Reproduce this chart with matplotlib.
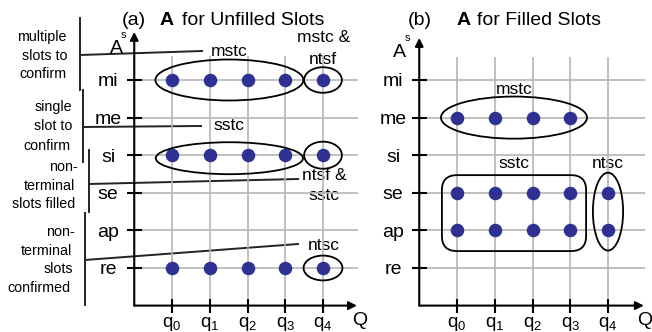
import numpy as np
import matplotlib
matplotlib.use('Agg')
import matplotlib.pyplot as plt
from matplotlib.patches import Ellipse, FancyBboxPatch

plt.rcParams['font.family'] = ['Liberation Sans', 'DejaVu Sans']
plt.rcParams['mathtext.fontset'] = 'custom'
plt.rcParams['mathtext.rm'] = 'Liberation Sans'

# ---- data ----
rows = ['re', 'ap', 'se', 'si', 'me', 'mi']
q_subs = ['0', '1', '2', '3', '4']
q_labels = [r'q$_\mathrm{%s}$' % s for s in q_subs]

# (a) unfilled slots
unfilled_rows = ['mi', 'si', 're']
unfilled_q = [0, 1, 2, 3, 4]

# (b) filled slots
filled_me_q = [0, 1, 2, 3]
filled_se_q = [0, 1, 2, 3, 4]
filled_ap_q = [0, 1, 2, 3, 4]

DOT = '#2e3192'
GRID = '#b5b5b5'

# pixel geometry of the figure
W, H = 652, 332
DX, DY = 37.75, 37.6
RE_PX = 268


def rect(q0_px, xlim, ylim):
    left = q0_px + xlim[0] * DX
    right = q0_px + xlim[1] * DX
    bottom = RE_PX - ylim[0] * DY
    top = RE_PX - ylim[1] * DY
    return [left / W, 1 - bottom / H, (right - left) / W, (bottom - top) / H]


fig = plt.figure(figsize=(6.52, 3.32), dpi=100)

# overlay in pixel coordinates for the annotations
ov = fig.add_axes([0, 0, 1, 1])
ov.set_xlim(0, W)
ov.set_ylim(H, 0)
ov.axis('off')


def make_panel(q0_px, xlim, ylim, grid_right, grid_top, arrow_top, arrow_right):
    ax = fig.add_axes(rect(q0_px, xlim, ylim))
    ax.set_xlim(*xlim)
    ax.set_ylim(*ylim)
    ax.patch.set_visible(False)
    for s in ax.spines.values():
        s.set_visible(False)
    ax.set_xticks(range(len(q_labels)), q_labels)
    ax.set_yticks(range(len(rows)), rows)
    ax.tick_params(axis='y', direction='inout', length=10.8, width=1.5,
                   labelsize=14, pad=13.3)
    for l in ax.get_yticklabels():
        l.set_ha('center')
    ax.tick_params(axis='x', direction='inout', length=9.4, width=1.5,
                   labelsize=13.5, pad=1.8)
    ax.hlines(range(len(rows)), -1, grid_right, color=GRID, lw=1.2, zorder=1)
    ax.vlines(range(len(q_labels)), -1, grid_top, color=GRID, lw=1.2, zorder=1)
    arrow = dict(arrowstyle='-|>', color='k', lw=1.5, mutation_scale=12,
                 shrinkA=0, shrinkB=0)
    ax.annotate('', xy=(-1, arrow_top), xytext=(-1, -1.0), arrowprops=arrow,
                annotation_clip=False)
    ax.annotate('', xy=(arrow_right, -1), xytext=(-1, -1), arrowprops=arrow,
                annotation_clip=False)
    return ax


# ---- panel (a) ----
axa = make_panel(172, (-1, 4.95), (-1, 6.35), 4.92, 5.64, 6.28, 4.9)
xa = [q for r in unfilled_rows for q in unfilled_q]
ya = [rows.index(r) for r in unfilled_rows for q in unfilled_q]
axa.scatter(xa, ya, s=95, color=DOT, zorder=3, linewidths=0)

ek = dict(fill=False, ec='k', lw=1.3, zorder=4)
axa.add_patch(Ellipse((1.52, 5), 3.92, 1.09, **ek))
axa.add_patch(Ellipse((4.0, 5), 1.0, 0.68, **ek))
axa.add_patch(Ellipse((1.52, 2.92), 3.9, 0.85, **ek))
axa.add_patch(Ellipse((4.0, 3), 1.0, 0.72, **ek))
axa.add_patch(Ellipse((4.0, 0), 1.03, 0.66, **ek))

# ---- panel (b) ----
axb = make_panel(457, (-1, 5.0), (-1, 6.35), 4.98, 5.62, 6.12, 4.95)
xb = filled_me_q + filled_se_q + filled_ap_q
yb = ([rows.index('me')] * len(filled_me_q) + [rows.index('se')] * len(filled_se_q)
      + [rows.index('ap')] * len(filled_ap_q))
axb.scatter(xb, yb, s=95, color=DOT, zorder=3, linewidths=0)

axb.add_patch(Ellipse((1.51, 4), 3.87, 1.12, **ek))
axb.add_patch(FancyBboxPatch((-0.4, 0.45), 3.82, 2.02,
                             boxstyle='round,pad=0,rounding_size=0.4', **ek))
axb.add_patch(Ellipse((4.0, 1.5), 0.8, 2.07, **ek))

# ---- text annotations (pixel coordinates) ----
fs = 12.5
for txt, x, y in [('mstc', 229, 52), ('mstc &', 324, 38), ('ntsf', 323, 60),
                  ('sstc', 229, 126), ('ntsf &', 324, 176), ('sstc', 324, 195),
                  ('ntsc', 324, 245),
                  ('mstc', 514, 90), ('sstc', 514, 164), ('ntsc', 608, 164)]:
    ov.text(x, y, txt, fontsize=fs, ha='center', va='center')

# titles
ov.text(122, 25, '(a)', fontsize=14, va='baseline')
ov.text(160, 25, 'A', fontsize=14, va='baseline', fontweight='bold')
ov.text(182, 25, 'for Unfilled Slots', fontsize=14, va='baseline')
ov.text(408, 25, '(b)', fontsize=14, va='baseline')
ov.text(457, 25, 'A', fontsize=14, va='baseline', fontweight='bold')
ov.text(477, 25, 'for Filled Slots', fontsize=14, va='baseline')

# axis names
ov.text(110, 53, 'A', fontsize=14, va='baseline')
ov.text(121, 38, 's', fontsize=8, va='baseline')
ov.text(393, 57, 'A', fontsize=14, va='baseline')
ov.text(405, 41, 's', fontsize=8, va='baseline')
ov.text(352, 325, 'Q', fontsize=14, va='baseline')
ov.text(637, 325, 'Q', fontsize=14, va='baseline')

# left-hand category brackets
lt = 10.3
left_lines = [('multiple', 67, 37), ('slots to', 67, 56), ('confirm', 67, 74),
              ('single', 72, 107), ('slot to', 72, 126), ('confirm', 70, 146),
              ('non-', 78, 167), ('terminal', 75, 186), ('slots filled', 75, 204),
              ('non-', 75, 232), ('terminal', 72, 251), ('slots', 73, 269),
              ('confirmed', 70, 288)]
for txt, x, y in left_lines:
    ov.text(x, y, txt, fontsize=lt, ha='right', va='center')

lk = dict(color='#222222', lw=1.4)
ov.plot([80, 80], [18, 90], **lk)
ov.plot([80, 202], [55, 51], **lk)
ov.plot([83, 83], [90, 162], **lk)
ov.plot([83, 201], [127, 126], **lk)
ov.plot([89, 89], [150, 212], **lk)
ov.plot([89, 298], [184, 179], **lk)
ov.plot([85, 85], [213, 305], **lk)
ov.plot([85, 298], [260, 244], **lk)

fig.savefig('out.png', dpi=100)
